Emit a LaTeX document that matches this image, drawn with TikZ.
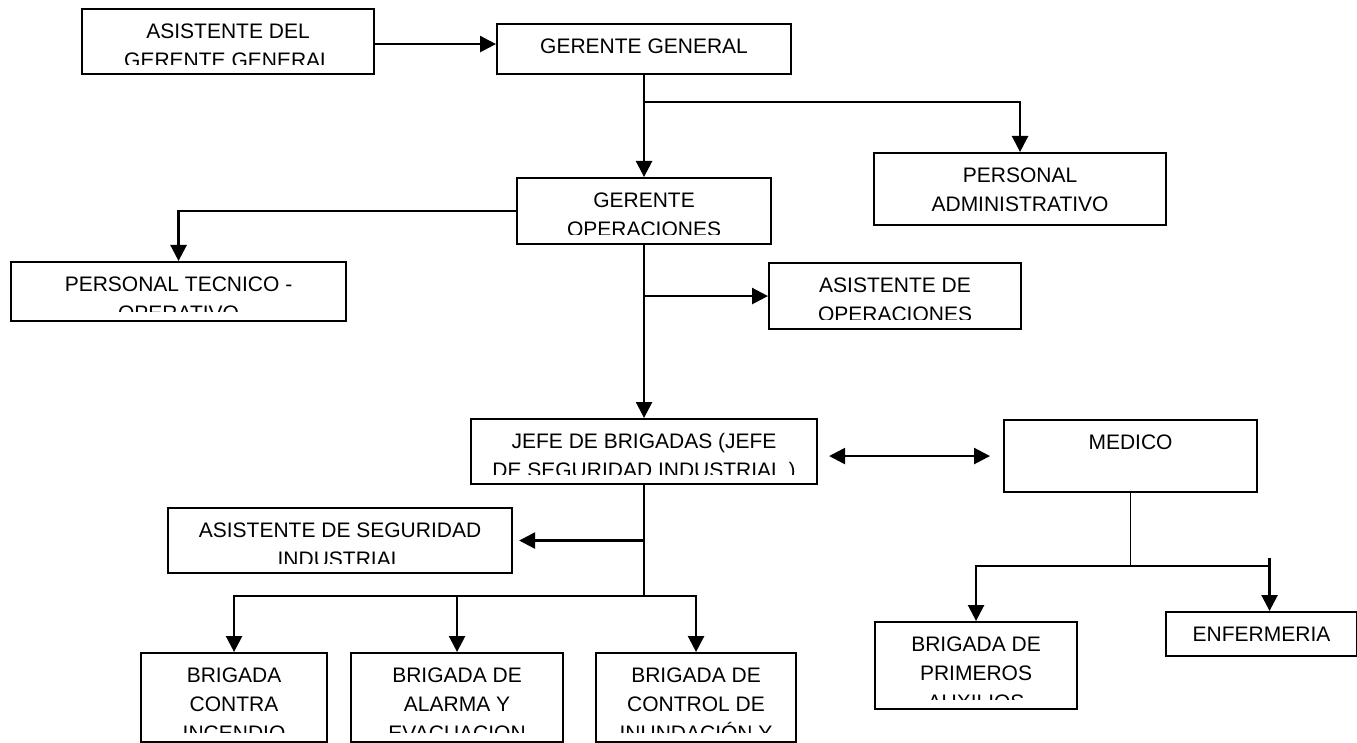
\documentclass[tikz,border=0pt]{standalone}
\usepackage{fontspec}
\setmainfont{Liberation Sans}
\usetikzlibrary{arrows.meta}

\tikzset{
  orgframe/.style={draw=black, line width=2.1pt, inner sep=0pt, rectangle},
  orgtext/.style={inner sep=0pt, align=center, text=black,
                  font=\fontsize{21}{29}\selectfont},
  arrowline/.style={draw=black, line width=2.5pt,
                    -{Triangle[length=16pt,width=16pt]}},
  twoway/.style={draw=black, line width=2.5pt,
                 {Triangle[length=16pt,width=16pt]}-{Triangle[length=16pt,width=16pt]}},
  plainline/.style={draw=black, line width=1.8pt},
}

% \orgbox{name}{x}{y}{width}{height}{text}: framed box, text clipped at the inner bottom margin
\newcommand{\orgbox}[6]{%
  \node[orgframe, minimum width=#4pt, minimum height=#5pt, anchor=north west] (#1) at (#2,#3) {};
  \begin{scope}
    \clip ([xshift=1pt,yshift=10.5pt]#1.south west) rectangle ([xshift=-1pt]#1.north east);
    \node[orgtext, anchor=north] at ([yshift=-15.5pt]#1.north) {#6};
  \end{scope}%
}

\begin{document}
\begin{tikzpicture}[x=1pt, y=-1pt]
\fill[white] (0,0) rectangle (1357,743);
\useasboundingbox (0,0) rectangle (1357,743);

% boxes
\orgbox{agg}{81}{8}{292}{65}{ASISTENTE DEL\\GERENTE GENERAL}
\orgbox{gg}{496}{23}{294}{50}{GERENTE GENERAL}
\orgbox{pa}{873}{152}{292}{72}{PERSONAL\\ADMINISTRATIVO}
\orgbox{go}{516}{177}{254}{66}{GERENTE\\OPERACIONES}
\orgbox{pt}{10}{261}{335}{59}{PERSONAL TECNICO -\\OPERATIVO}
\orgbox{aso}{768}{262}{252}{66}{ASISTENTE DE\\OPERACIONES}
\orgbox{jefe}{470}{418}{346}{65}{JEFE DE BRIGADAS (JEFE\\DE SEGURIDAD INDUSTRIAL )}
\orgbox{med}{1003}{419}{253}{72}{MEDICO}
\orgbox{asi}{167}{507}{344}{65}{ASISTENTE DE SEGURIDAD\\INDUSTRIAL}
\orgbox{bci}{140}{652}{186}{89}{BRIGADA\\CONTRA\\INCENDIO}
\orgbox{bae}{350}{652}{212}{89}{BRIGADA DE\\ALARMA Y\\EVACUACION}
\orgbox{bcy}{595}{652}{200}{89}{BRIGADA DE\\CONTROL DE\\INUNDACIÓN Y}
\orgbox{bpa}{874}{621}{202}{87}{BRIGADA DE\\PRIMEROS\\AUXILIOS}
\orgbox{enf}{1165}{611}{191}{44}{ENFERMERIA}

% junction points
\path (gg.south) ++(0,27) coordinate (gbr);
\path (jefe.south) ++(0,111) coordinate (jbar);
\path (med.south) ++(0,73) coordinate (mbar);
\path ([xshift=8pt]enf.north) coordinate (enfin);

% top level
\draw[arrowline] ([yshift=-2.5pt]agg.east) -- ([yshift=-2.5pt]agg.east -| gg.west);
\draw[arrowline] (gg.south) -- (go.north);
\draw[arrowline] (gbr) -| (pa.north);

% operations
\draw[arrowline] (go.west) -| (pt.north);
\draw[arrowline] (go.south) -- (jefe.north);
\draw[arrowline] (go.south |- aso.west) -- (aso.west);

% brigades
\draw[twoway, shorten <=11pt, shorten >=13pt] (jefe.east |- med.west) -- (med.west);
\draw[plainline] (jefe.south) -- (jbar);
\draw[arrowline, shorten >=6pt] (jbar |- asi.east) -- (asi.east);
\draw[arrowline] (jbar) -| (bci.north);
\draw[arrowline] (jbar) -| (bae.north);
\draw[arrowline] (jbar) -| (bcy.north);

% medical branch
\draw[plainline] (med.south) -- (mbar);
\draw[arrowline] (mbar -| enfin) -| (bpa.north);
\draw[arrowline] ([yshift=8pt]mbar -| enfin) -- (enfin);
\end{tikzpicture}
\end{document}
